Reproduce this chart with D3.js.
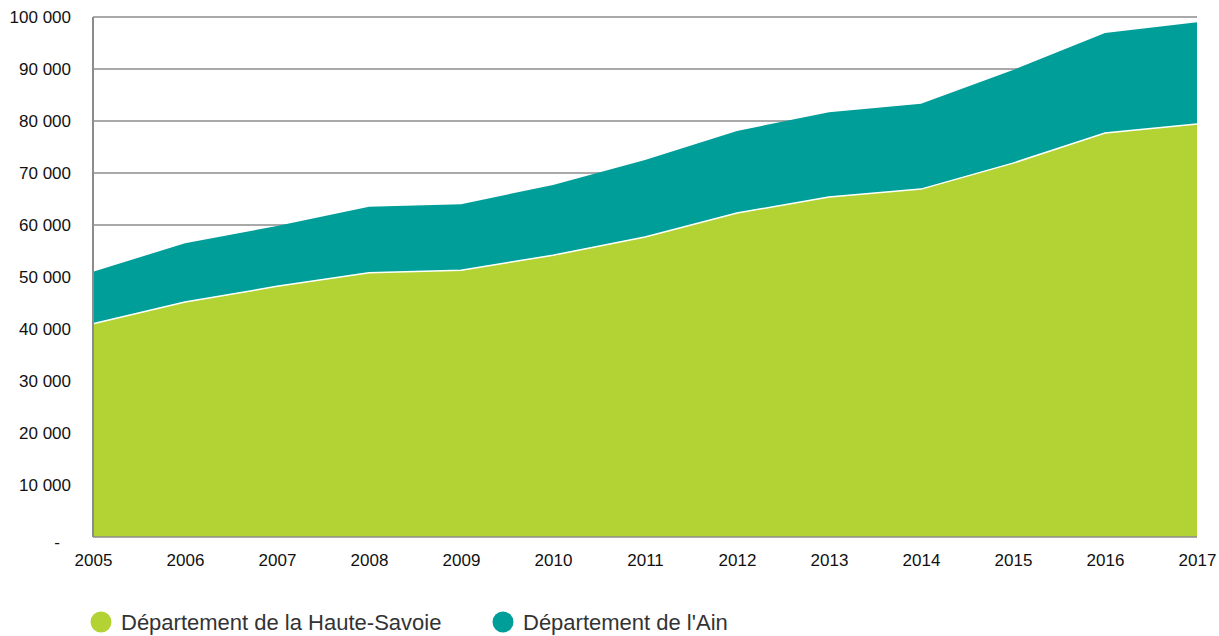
<!DOCTYPE html>
<html>
<head>
<meta charset="utf-8">
<script src="https://cdn.jsdelivr.net/npm/d3@7"></script>
<style>
  body { margin: 0; background: #fff; }
  text { font-family: "Liberation Sans", Arial, sans-serif; }
</style>
</head>
<body>
<div class="chart"></div>
<script>
const years = [2005, 2006, 2007, 2008, 2009, 2010, 2011, 2012, 2013, 2014, 2015, 2016, 2017]
const hauteSavoie = [41000, 45200, 48200, 50800, 51300, 54200, 57700, 62300, 65400, 66900, 71900, 77700, 79400]
const ain = [10000, 11300, 11600, 12700, 12700, 13500, 14800, 15800, 16300, 16400, 17900, 19200, 19600]
const yTicks = [0, 10000, 20000, 30000, 40000, 50000, 60000, 70000, 80000, 90000, 100000]
const seriesNames = ["Département de la Haute-Savoie", "Département de l'Ain"]
const colors = ["#b3d334", "#009e99"]

const width = 1219, height = 636
const margin = {top: 17, right: 22, bottom: 99, left: 93}
const innerW = width - margin.left - margin.right
const innerH = height - margin.top - margin.bottom
const axisFont = "Lato, 'Open Sans', sans-serif"

const svg = d3.select(".chart")
    .append("svg")
        .attr("width", width)
        .attr("height", height)

const g = svg.append("g")
    .attr("transform", "translate(" + margin.left + "," + margin.top + ")")

const x = d3.scaleLinear()
    .domain([years[0], years[years.length - 1]])
    .range([0, innerW])

const y = d3.scaleLinear()
    .domain([0, 100000])
    .range([innerH, 0])

// build table for the stack
const table = years.map((yr, i) => ({year: yr, hs: hauteSavoie[i], ain: ain[i]}))
const stacked = d3.stack().keys(["hs", "ain"])(table)

// gridlines behind the areas
g.append("g")
    .selectAll("line")
    .data(yTicks.filter(d => d > 0))
    .enter()
    .append("line")
        .attr("x1", 0)
        .attr("x2", innerW)
        .attr("y1", d => y(d))
        .attr("y2", d => y(d))
        .attr("stroke", "#8c8c8c")
        .attr("stroke-width", 1.5)

const area = d3.area()
    .x(d => x(d.data.year))
    .y0(d => y(d[0]))
    .y1(d => y(d[1]))

g.selectAll(".layer")
    .data(stacked)
    .enter()
    .append("path")
        .attr("class", "layer")
        .attr("d", area)
        .attr("fill", (d, i) => colors[i])

// white separator on top of the green layer
g.append("path")
    .datum(stacked[0])
    .attr("d", d3.line().x(d => x(d.data.year)).y(d => y(d[1])))
    .attr("fill", "none")
    .attr("stroke", "#fff")
    .attr("stroke-width", 1.5)

// axis lines
g.append("line")
    .attr("x1", 0).attr("x2", 0)
    .attr("y1", 0).attr("y2", innerH)
    .attr("stroke", "#8c8c8c")
    .attr("stroke-width", 2)
g.append("line")
    .attr("x1", 0).attr("x2", innerW)
    .attr("y1", innerH).attr("y2", innerH)
    .attr("stroke", "#8c8c8c")
    .attr("stroke-width", 1.5)

// y axis labels
const yAxis = g.append("g")
    .call(d3.axisLeft(y).tickValues(yTicks).tickSize(0).tickPadding(22)
        .tickFormat(d => d === 0 ? "-" : d3.format(",")(d).replace(/,/g, " ")))
yAxis.select(".domain").remove()
yAxis.selectAll("text")
    .attr("font-size", 17)
    .attr("fill", "#111")
    .attr("font-family", axisFont)
yAxis.selectAll(".tick")
    .filter(d => d === 0)
    .select("text")
        .attr("x", -33)
        .attr("dy", "0.6em")

// x axis labels
const xAxis = g.append("g")
    .attr("transform", "translate(0," + innerH + ")")
    .call(d3.axisBottom(x).tickValues(years).tickSize(0).tickPadding(17).tickFormat(d3.format("d")))
xAxis.select(".domain").remove()
xAxis.selectAll("text")
    .attr("font-size", 17)
    .attr("fill", "#111")
    .attr("font-family", axisFont)

// legend
const legendX = [101, 503]
const legend = svg.append("g")
    .selectAll("g")
    .data(seriesNames)
    .enter()
    .append("g")
        .attr("transform", (d, i) => "translate(" + legendX[i] + ",622)")
legend.append("circle")
    .attr("r", 10.5)
    .attr("fill", (d, i) => colors[i])
legend.append("text")
    .attr("x", 20)
    .attr("dy", "0.36em")
    .attr("font-size", 22)
    .attr("fill", "#333")
    .text(d => d)
</script>
</body>
</html>
